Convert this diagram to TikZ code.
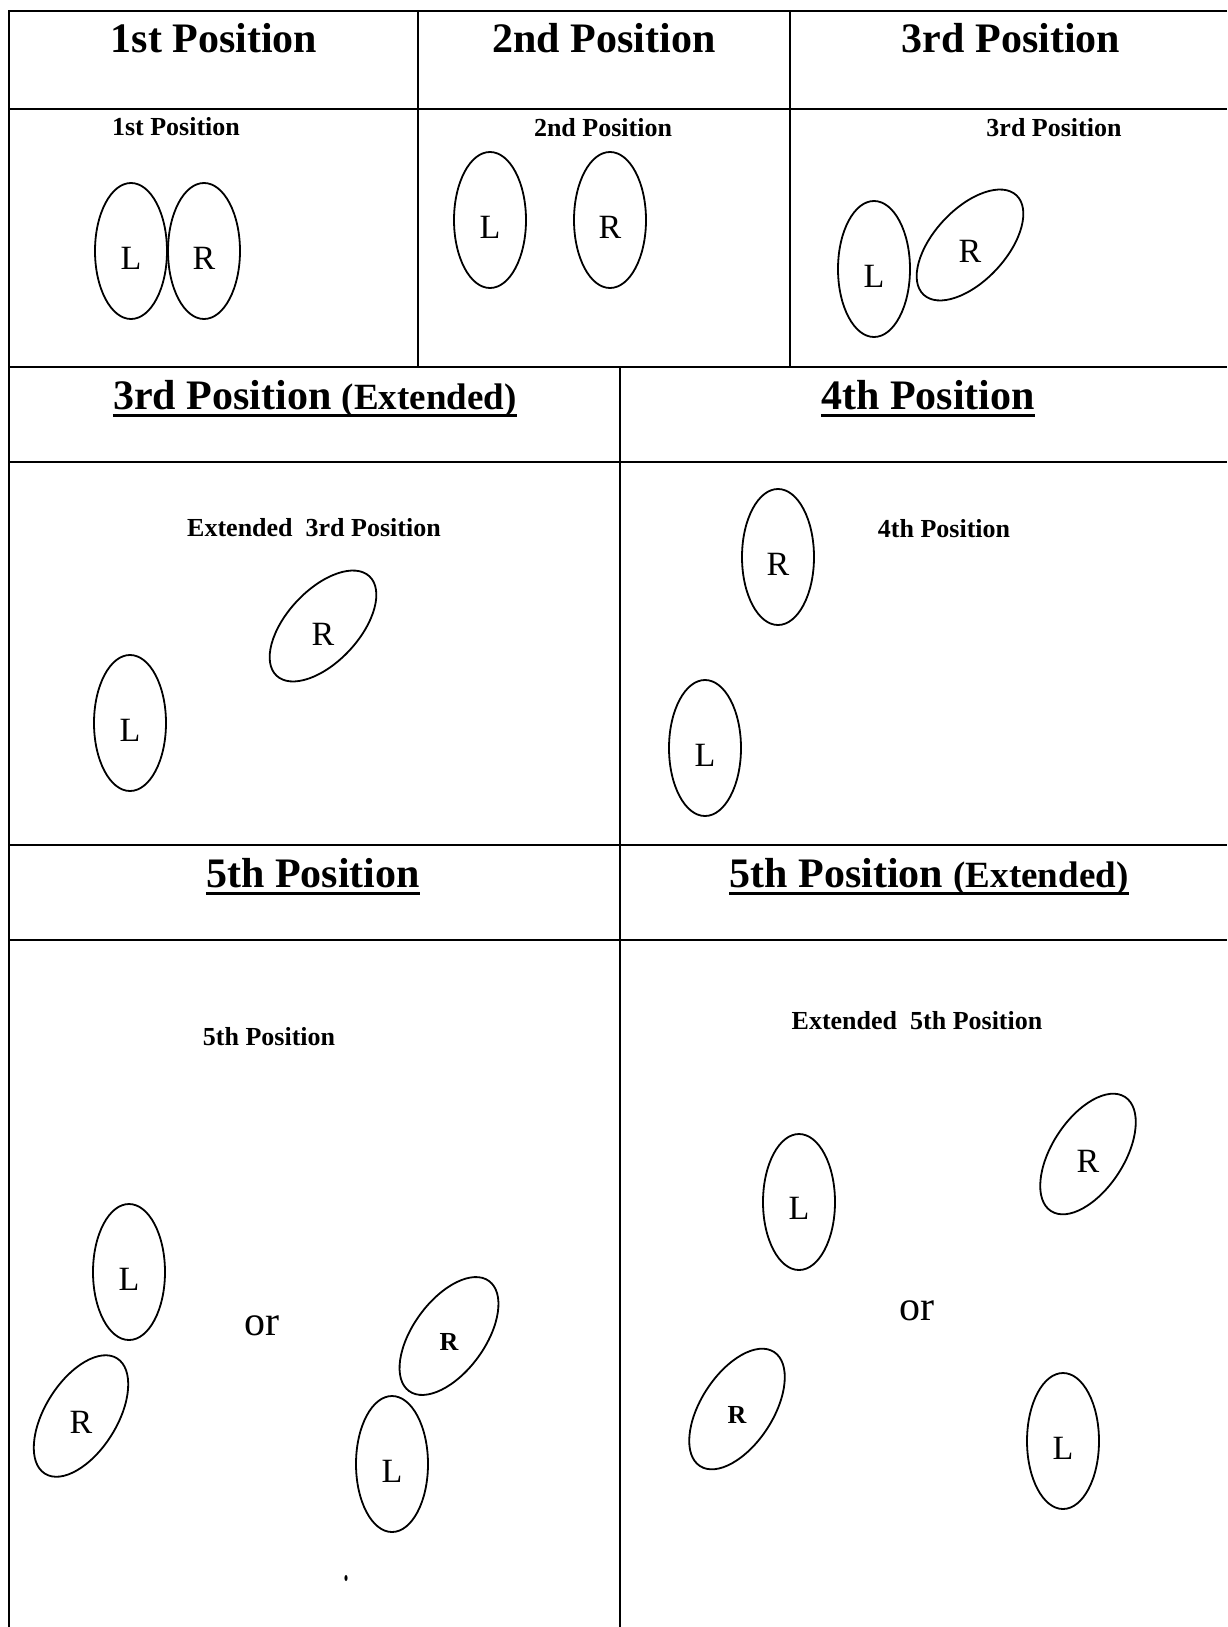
\documentclass[tikz,border=0pt]{standalone}
\usepackage{fontspec}
\setmainfont{Liberation Serif}
\usepackage{tikz}
\usetikzlibrary{shapes.geometric,positioning}
\tikzset{
  rule/.style={black,line width=0.9pt},
  uline/.style={black,line width=1.5pt},
  foot/.style={draw=black,line width=0.9pt,ellipse,minimum width=36pt,
               minimum height=68pt,inner sep=0pt},
  side/.style={font=\fontsize{17}{20}\selectfont,inner sep=0pt},
  sideb/.style={font=\fontsize{13}{15}\selectfont\bfseries,inner sep=0pt},
  head/.style={font=\fontsize{21}{25}\selectfont\bfseries,inner sep=0pt,anchor=base},
  sub/.style={font=\fontsize{13}{15}\selectfont\bfseries,inner sep=0pt},
  choice/.style={font=\fontsize{21}{25}\selectfont,inner sep=0pt},
  speck/.style={fill=black,ellipse,minimum width=1.6pt,minimum height=3pt,inner sep=0pt},
}
\newcommand{\extsize}{\fontsize{18.5}{22}\selectfont}

\begin{document}
\begin{tikzpicture}[x=0.5pt,y=-0.5pt]
  \path[use as bounding box] (0,0) rectangle (1227,1627);

  % table rules
  \draw[rule] (1227,11) -- (9,11) -- (9,1627);
  \draw[rule] (9,109) -- (1227,109);
  \draw[rule] (9,367) -- (1227,367);
  \draw[rule] (9,462) -- (1227,462);
  \draw[rule] (9,845) -- (1227,845);
  \draw[rule] (9,940) -- (1227,940);
  \draw[rule] (418,11) -- (418,367);
  \draw[rule] (790,11) -- (790,367);
  \draw[rule] (620,367) -- (620,1627);

  % headers
  \node[head] (h1) at (214,53) {1st Position};
  \node[head] (h2) at (604,53) {2nd Position};
  \node[head] (h3) at (1011,53) {3rd Position};
  \node[head] (h3x) at (315,409) {3rd Position {\extsize(Extended)}};
  \node[head] (h4) at (928,409) {4th Position};
  \node[head] (h5) at (313,887) {5th Position};
  \node[head] (h5x) at (929,887) {5th Position {\extsize(Extended)}};
  \foreach \h in {h3x,h4,h5,h5x}
    \draw[uline] ([yshift=-3pt]\h.base west) -- ([yshift=-3pt]\h.base east);

  % 1st position
  \node[sub] (s1) at (176,127) {1st Position};
  \node[foot] (l1) at (131,251) {};
  \node[foot] (r1) at (204,251) {};
  \node[side] at ([yshift=-3.5pt]l1.center) {L};
  \node[side] at ([yshift=-3.5pt]r1.center) {R};

  % 2nd position
  \node[sub] (s2) at (603,128) {2nd Position};
  \node[foot] (l2) at (490,220) {};
  \node[foot] (r2) at (610,220) {};
  \node[side] at ([yshift=-3.5pt]l2.center) {L};
  \node[side] at ([yshift=-3.5pt]r2.center) {R};

  % 3rd position
  \node[sub] (s3) at (1054,128) {3rd Position};
  \node[foot] (l3) at (874,269) {};
  \node[foot,rotate=-43] (r3) at (970,245) {};
  \node[side] at ([yshift=-3.5pt]l3.center) {L};
  \node[side] at ([yshift=-3pt]r3.center) {R};

  % extended 3rd position
  \node[sub] (s3x) at (314,528) {Extended\ \ 3rd Position};
  \node[foot] (l3x) at (130,723) {};
  \node[foot,rotate=-43] (r3x) at (323,626) {};
  \node[side] at ([yshift=-3.5pt]l3x.center) {L};
  \node[side] at ([yshift=-4pt]r3x.center) {R};

  % 4th position
  \node[sub] (s4) at (944,529) {4th Position};
  \node[foot] (r4) at (778,557) {};
  \node[foot] (l4) at (705,748) {};
  \node[side] at ([yshift=-3.5pt]r4.center) {R};
  \node[side] at ([yshift=-3.5pt]l4.center) {L};

  % 5th position
  \node[sub] (s5) at (269,1037) {5th Position};
  \node[foot] (l5a) at (129,1272) {};
  \node[foot,rotate=-32] (r5a) at (81,1416) {};
  \node[side] at ([yshift=-3.5pt]l5a.center) {L};
  \node[side] at ([yshift=-3pt]r5a.center) {R};
  \node[choice] (or5) at (262,1326) {or};
  \node[foot,rotate=-36] (r5b) at (449,1336) {};
  \node[foot] (l5b) at (392,1464) {};
  \node[sideb] at ([yshift=-3pt]r5b.center) {R};
  \node[side] at ([yshift=-3.5pt]l5b.center) {L};
  \node[speck] (dot) at (346,1578) {};

  % extended 5th position
  \node[sub] (s5x) at (917,1021) {Extended\ \ 5th Position};
  \node[foot] (l5c) at (799,1202) {};
  \node[foot,rotate=-33] (r5c) at (1088,1154) {};
  \node[side] at ([yshift=-3pt]l5c.center) {L};
  \node[side] at ([yshift=-3.5pt]r5c.center) {R};
  \node[choice] (or5x) at (917,1311) {or};
  \node[foot,rotate=-33] (r5d) at (737,1409) {};
  \node[foot] (l5d) at (1063,1441) {};
  \node[sideb] at ([yshift=-3pt]r5d.center) {R};
  \node[side] at ([yshift=-3.5pt]l5d.center) {L};
\end{tikzpicture}
\end{document}
